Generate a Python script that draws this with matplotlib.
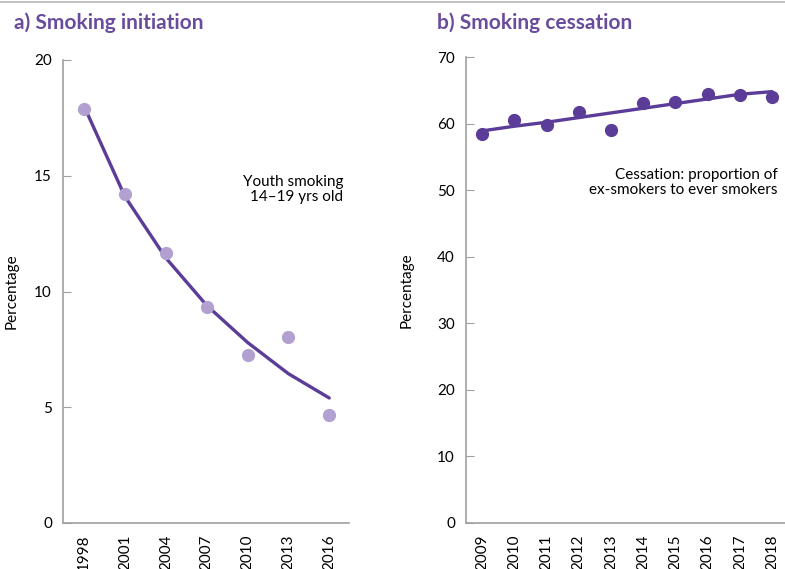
import matplotlib.pyplot as plt
from matplotlib.lines import Line2D

# a) youth smoking, 14-19 yrs old
init_years = [1998, 2001, 2004, 2007, 2010, 2013, 2016]
init_obs = [17.9, 14.2, 11.65, 9.35, 7.25, 8.05, 4.65]
init_trend = [18.0, 14.1, 11.45, 9.4, 7.8, 6.45, 5.4]

# b) proportion of ex-smokers to ever smokers
cess_years = [2009, 2010, 2011, 2012, 2013, 2014, 2015, 2016, 2017, 2018]
cess_obs = [58.45, 60.55, 59.8, 61.8, 59.0, 63.15, 63.2, 64.5, 64.3, 64.0]
cess_trend = [58.9, 59.6, 60.2, 60.9, 61.6, 62.3, 63.0, 63.7, 64.4, 64.8]

dark = '#5b3c98'
light = '#b1a0d0'
axis_grey = '#a0a0a0'

plt.rcParams['font.family'] = ['Lato', 'DejaVu Sans']

fig = plt.figure(figsize=(7.85, 5.69), dpi=100)
W, H = 785, 569


def box(x0, y0, x1, y1):
    return [x0 / W, 1 - y1 / H, (x1 - x0) / W, (y1 - y0) / H]


def style(ax):
    for s in ['top', 'right']:
        ax.spines[s].set_visible(False)
    for s in ['left', 'bottom']:
        ax.spines[s].set_color(axis_grey)
        ax.spines[s].set_linewidth(1.2)
    ax.tick_params(axis='y', direction='in', length=6, color=axis_grey,
                   labelsize=11, pad=8)
    ax.tick_params(axis='x', length=0, labelsize=11, pad=8, labelrotation=90)
    ax.set_ylabel('Percentage', fontsize=11)


ax1 = fig.add_axes(box(63, 60, 349, 523))
ax1.plot(init_years, init_trend, color=dark, lw=2.4, zorder=2, solid_capstyle='round')
ax1.plot(init_years, init_obs, 'o', color=light, ms=8.5, zorder=3)
ax1.set_xlim(1996.45, 2017.45)
ax1.set_ylim(0, 20)
ax1.set_yticks([0, 5, 10, 15, 20])
ax1.set_xticks(init_years)
ax1.set_xticklabels([str(y) for y in init_years])
style(ax1)
ax1.yaxis.set_label_coords(-0.155, 0.5)
ax1.text(0.98, 0.72, 'Youth smoking\n14–19 yrs old', transform=ax1.transAxes,
         ha='right', va='center', fontsize=11, linespacing=1.1)

ax2 = fig.add_axes(box(466, 57, 785, 523))
ax2.plot(cess_years, cess_trend, color=dark, lw=2.4, zorder=2, solid_capstyle='round')
ax2.plot(cess_years, cess_obs, 'o', color=dark, ms=8.5, zorder=3)
ax2.set_xlim(2008.5, 2018.4)
ax2.set_ylim(0, 70)
ax2.set_yticks(range(0, 71, 10))
ax2.set_xticks(cess_years)
ax2.set_xticklabels([str(y) for y in cess_years])
style(ax2)
ax2.yaxis.set_label_coords(-0.165, 0.5)
ax2.text(0.976, 0.73, 'Cessation: proportion of\nex-smokers to ever smokers',
         transform=ax2.transAxes, ha='right', va='center', fontsize=11, linespacing=1.1)

fig.text(14 / W, 1 - 23 / H, 'a) Smoking initiation', color='#6a4c9d',
         fontsize=15, fontweight='bold', va='center', ha='left')
fig.text(437 / W, 1 - 23 / H, 'b) Smoking cessation', color='#6a4c9d',
         fontsize=15, fontweight='bold', va='center', ha='left')

fig.add_artist(Line2D([0, 1], [1 - 2 / H, 1 - 2 / H], color='#b8b8b8', lw=1.2))

fig.savefig('out.png', dpi=100)
